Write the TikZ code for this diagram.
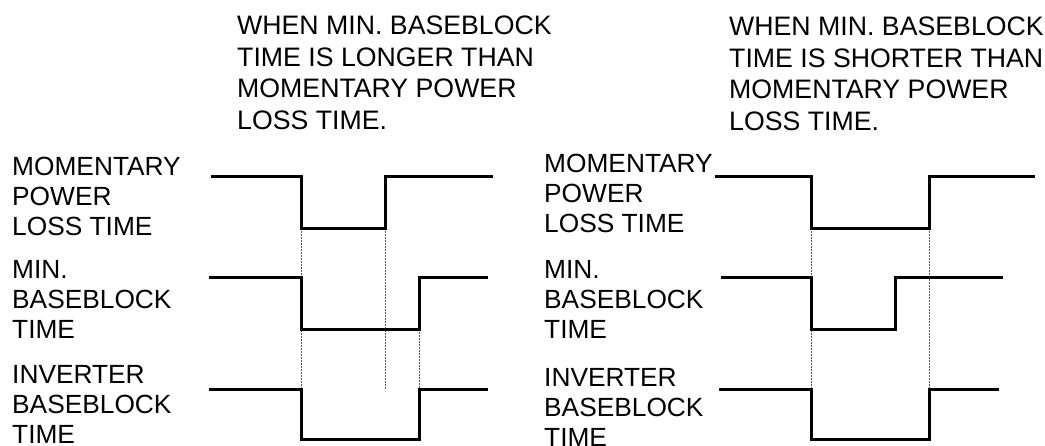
\documentclass[tikz,border=0pt]{standalone}
\usepackage{fontspec}
\setmainfont{Liberation Sans}
\begin{document}
\begin{tikzpicture}[x=1pt,y=-1pt,
  lbl/.style={anchor=base west,inner sep=0pt,align=left,font=\fontsize{26.3}{30}\selectfont},
  ttl/.style={anchor=base west,inner sep=0pt,align=left,font=\fontsize{26.7}{31.5}\selectfont},
  wave/.style={line width=3pt,line join=miter},
  guide/.style={line width=1pt,draw=black!65,dash pattern=on 1.6pt off 1.4pt}]
\useasboundingbox (0,0) rectangle (1045,445);
% titles (anchored at last line baseline)
\node[ttl] (t1) at (237,129) {WHEN MIN. BASEBLOCK\\TIME IS LONGER THAN\\MOMENTARY POWER\\LOSS TIME.};
\node[ttl] (t2) at (729,130) {WHEN MIN. BASEBLOCK\\TIME IS SHORTER THAN\\MOMENTARY POWER\\LOSS TIME.};
% left labels
\node[lbl] (l1) at (12,235) {MOMENTARY\\POWER\\LOSS TIME};
\node[lbl] (l2) at (12,338) {MIN.\\BASEBLOCK\\TIME};
\node[lbl] (l3) at (12,443) {INVERTER\\BASEBLOCK\\TIME};
% right labels
\node[lbl] (r1) at (544,232) {MOMENTARY\\POWER\\LOSS TIME};
\node[lbl] (r2) at (544,338) {MIN.\\BASEBLOCK\\TIME};
\node[lbl] (r3) at (544,446) {INVERTER\\BASEBLOCK\\TIME};
% left guides
\draw[guide] (301,228) -- (301,389);
\draw[guide] (385,228) -- (385,390);
\draw[guide] (419,329) -- (419,389);
% right guides
\draw[guide] (811,228) -- (811,389);
\draw[guide] (929,228) -- (929,389);
% left waves
\draw[wave] (211,176) -- (301,176) -- (301,228) -- (385,228) -- (385,176) -- (493,176);
\draw[wave] (209,277) -- (301,277) -- (301,329) -- (419,329) -- (419,277) -- (488,277);
\draw[wave] (209,389) -- (301,389) -- (301,439) -- (419,439) -- (419,389) -- (488,389);
% right waves
\draw[wave] (715,176) -- (811,176) -- (811,228) -- (929,228) -- (929,176) -- (1035,176);
\draw[wave] (721,277) -- (811,277) -- (811,329) -- (895,329) -- (895,277) -- (1003,277);
\draw[wave] (719,389) -- (811,389) -- (811,439) -- (929,439) -- (929,389) -- (999,389);
\end{tikzpicture}
\end{document}
